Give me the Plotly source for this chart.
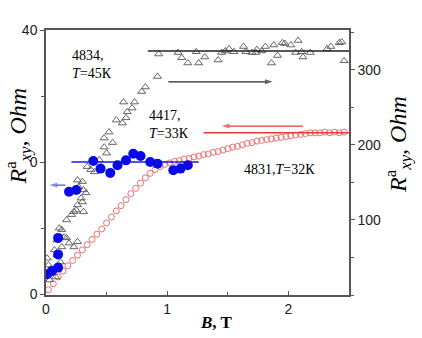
import plotly.graph_objects as go

# ---- data ----
# sample 4831, T=32K (right axis), open red circles
red_B = [0.02, 0.06, 0.10, 0.14, 0.18, 0.22, 0.26, 0.30, 0.34, 0.38, 0.42, 0.46, 0.50, 0.54,
         0.58, 0.62, 0.66, 0.70, 0.74, 0.78, 0.82, 0.86, 0.90, 0.94, 0.98, 1.02, 1.06, 1.10,
         1.14, 1.18, 1.22, 1.26, 1.30, 1.34, 1.38, 1.42, 1.46, 1.50, 1.54, 1.58, 1.62, 1.66,
         1.70, 1.74, 1.78, 1.82, 1.86, 1.90, 1.94, 1.98, 2.02, 2.06, 2.10, 2.14, 2.18, 2.22,
         2.26, 2.30, 2.34, 2.38, 2.42, 2.46]
red_R = [7, 15, 24, 32, 39, 46, 53, 60, 67, 74, 81, 88, 96, 104,
         112, 119, 127, 135, 142, 149, 156, 162, 167, 171, 174, 176, 178, 179,
         181, 182, 184, 185, 187, 188, 190, 191, 193, 195, 197, 198, 200, 202,
         203, 205, 206, 207, 208, 209, 210, 211, 212, 213, 214, 215, 216, 216,
         216, 217, 216, 217, 216, 217]

# sample 4834, T=45K (right axis), open triangles
tri_B = [0.03, 0.08, 0.05, 0.02, 0.12, 0.01, 0.09, 0.07, 0.13, 0.23, 0.19, 0.26, 0.09, 0.17,
         0.15, 0.13, 0.11, 0.17, 0.21, 0.23, 0.31, 0.25, 0.26, 0.30, 0.29, 0.33, 0.31, 0.27,
         0.30, 0.26, 0.34, 0.40, 0.37, 0.44, 0.50, 0.48, 0.55, 0.48, 0.52, 0.58, 0.63, 0.66,
         0.67, 0.71, 0.64, 0.73, 0.79, 0.82, 0.92,
         0.93, 1.09, 1.12, 1.17, 1.24, 1.26, 1.31, 1.42, 1.45, 1.48, 1.51, 1.55, 1.63, 1.65,
         1.70, 1.73, 1.74, 1.78, 1.81, 1.86, 1.88, 1.91, 1.95, 1.97, 2.02, 2.06, 2.08, 2.11,
         2.12, 2.18, 2.32, 2.35, 2.42, 2.44, 2.46]
tri_R = [20, 24, 30, 40, 44, 49, 53, 60, 64, 64, 69, 71, 73, 76,
         77, 87, 89, 100, 107, 111, 111, 113, 120, 124, 129, 136, 140, 144,
         151, 153, 171, 164, 167, 180, 189, 197, 203, 209, 217, 233, 229, 236,
         244, 249, 257, 257, 271, 277, 291,
         321, 323, 316, 309, 324, 309, 317, 313, 323, 325, 328, 324, 331, 324,
         323, 323, 327, 325, 331, 309, 333, 319, 336, 335, 333, 323, 339, 324,
         317, 323, 328, 331, 336, 337, 312]

# sample 4417, T=33K (left axis), filled blue circles
blue_B = [0.01, 0.05, 0.10, 0.10, 0.10, 0.19, 0.25, 0.39, 0.45, 0.53, 0.59, 0.66, 0.72,
          0.78, 0.86, 0.92, 1.05, 1.11, 1.17]
blue_R = [-34, -33, -32, -28, -23, -9, -8.5, 0.3, -2, -3.3, -1, 0.5, 2.5,
          1.8, 0, -0.5, -2.5, -2, -1]

# saturation levels (lines) and arrows (tail -> head)
black_line_B = [0.84, 2.5]; black_line_R = [325, 325]
red_line_B = [1.30, 2.5];   red_line_R = [216, 216]
blue_line_B = [0.21, 1.26]; blue_line_R = [0, 0]
black_arrow_B = [1.01, 1.87]; black_arrow_R = [284, 284]
red_arrow_B = [2.12, 1.45];   red_arrow_R = [225, 225]
blue_arrow_B = [0.16, 0.03];  blue_arrow_R = [-7, -7]

x_ticks = [0, 1, 2]
left_ticks = [-40, 0, 40]
left_ticktext = ["0", "0", "40"]
right_ticks = [100, 200, 300]

SERIF = "Liberation Serif, Times New Roman, serif"
SANS = "Liberation Sans, Arial, sans-serif"
AX = "#555555"

fig = go.Figure()


def arrow(xs, ys, yaxis, col):
    return go.Scatter(x=xs, y=ys, mode="lines+markers", yaxis=yaxis,
                      line=dict(color=col, width=1.3),
                      marker=dict(symbol=["circle", "arrow"], size=[0.1, 8], color=col,
                                  angleref="previous", line=dict(width=0)))


# right-axis data (primary y)
fig.add_trace(go.Scatter(x=red_B, y=red_R, mode="markers", yaxis="y",
                         marker=dict(symbol="circle-open", size=6, color="#ee7070",
                                     line=dict(width=1, color="#ee7070"))))
fig.add_trace(go.Scatter(x=tri_B, y=tri_R, mode="markers", yaxis="y",
                         marker=dict(symbol="triangle-up-open", size=7, color="#555555",
                                     line=dict(width=0.9, color="#555555"))))
fig.add_trace(go.Scatter(x=black_line_B, y=black_line_R, mode="lines", yaxis="y",
                         line=dict(color="#222222", width=1.5)))
fig.add_trace(go.Scatter(x=red_line_B, y=red_line_R, mode="lines", yaxis="y",
                         line=dict(color="#e83a3a", width=1.5)))
fig.add_trace(arrow(black_arrow_B, black_arrow_R, "y", "#222222"))
fig.add_trace(arrow(red_arrow_B, red_arrow_R, "y", "#e83a3a"))
# left-axis data (overlaying y2)
fig.add_trace(go.Scatter(x=blue_line_B, y=blue_line_R, mode="lines", yaxis="y2",
                         line=dict(color="#1a1ae0", width=1.5)))
fig.add_trace(arrow(blue_arrow_B, blue_arrow_R, "y2", "#4a5ae8"))
fig.add_trace(go.Scatter(x=blue_B, y=blue_R, mode="markers", yaxis="y2",
                         marker=dict(symbol="circle", size=10, color="#0a0ae8")))

txtfont = dict(family=SERIF, size=14, color="black")
title_txt = "<i>R</i><sup>a</sup><sub><i>xy</i></sub><i>, Ohm</i>"
annotations = [
    dict(x=0.2, y=307, xref="x", yref="y", text="4834,<br><i>T</i>=45К", showarrow=False,
         xanchor="left", yanchor="middle", align="left", font=txtfont),
    dict(x=0.835, y=227, xref="x", yref="y", text="4417,<br><i>T</i>=33К", showarrow=False,
         xanchor="left", yanchor="middle", align="left", font=txtfont),
    dict(x=1.62, y=167, xref="x", yref="y", text="4831,<i>T</i>=32К", showarrow=False,
         xanchor="left", yanchor="middle", align="left", font=txtfont),
    dict(x=-0.094, y=0.60, xref="paper", yref="paper", textangle=-90, showarrow=False,
         xanchor="center", yanchor="middle", text=title_txt,
         font=dict(family=SERIF, size=24, color="black")),
    dict(x=1.1617, y=0.57, xref="paper", yref="paper", textangle=-90, showarrow=False,
         xanchor="center", yanchor="middle", text=title_txt,
         font=dict(family=SERIF, size=24, color="black")),
    dict(x=0.564, y=-0.102, xref="paper", yref="paper", showarrow=False,
         xanchor="center", yanchor="middle",
         text="<b><i>B</i>, T</b>", font=dict(family=SERIF, size=17, color="black")),
]

tickfont = dict(family=SANS, size=14, color="#222222")
fig.update_layout(
    width=422, height=338,
    margin=dict(l=46, r=73, t=30, b=43),
    paper_bgcolor="white", plot_bgcolor="white",
    showlegend=False,
    xaxis=dict(range=[0, 2.5], tickvals=x_ticks, ticks="inside", ticklen=4, tickwidth=1.2,
               tickcolor=AX, showline=True, linecolor=AX, linewidth=1.5, mirror=True,
               showgrid=False, zeroline=False, tickfont=tickfont,
               minor=dict(dtick=0.5, ticks="inside", ticklen=3, tickcolor=AX, showgrid=False)),
    yaxis=dict(range=[0, 353], side="right", tickvals=right_ticks, ticks="outside", ticklen=4,
               tickwidth=1.2, tickcolor=AX, showline=True, linecolor=AX, linewidth=1.5,
               showgrid=False, zeroline=False, tickfont=tickfont,
               minor=dict(dtick=50, ticks="outside", ticklen=3, tickcolor=AX, showgrid=False)),
    yaxis2=dict(range=[-40.3, 40], side="left", overlaying="y", tickvals=left_ticks,
                ticktext=left_ticktext, ticks="outside", ticklen=4, tickwidth=1.2,
                tickcolor=AX, showline=True, linecolor=AX, linewidth=1.5,
                showgrid=False, zeroline=False, tickfont=tickfont,
                minor=dict(dtick=20, ticks="outside", ticklen=3, tickcolor=AX, showgrid=False)),
    annotations=annotations,
)

fig.write_html("out.html")
